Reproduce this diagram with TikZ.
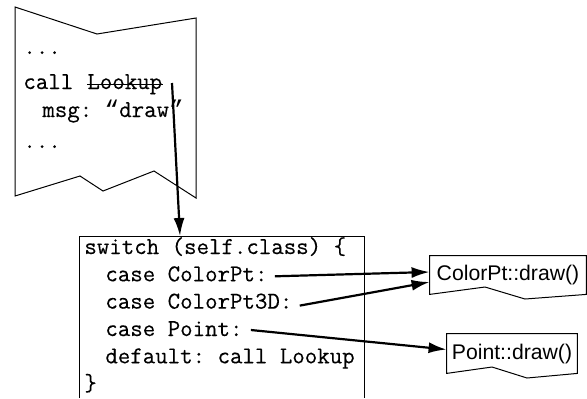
\documentclass[tikz,border=0pt]{standalone}
\usepackage{fontspec}
\setmainfont{Liberation Sans}
\newfontfamily\codefont[FakeBold=0.3]{Latin Modern Mono}
\newfontfamily\quotefont{Liberation Mono}
\newfontfamily\labelfont{Liberation Sans}
\usetikzlibrary{arrows.meta,calc}

\begin{document}
\begin{tikzpicture}[x=0.5pt,y=-0.5pt,
  outline/.style={draw=black,line width=0.5pt,line join=miter},
  code/.style={font=\codefont\fontsize{12.1}{14}\selectfont\frenchspacing,anchor=base west,inner sep=0pt},
  method/.style={font=\labelfont\fontsize{10.6}{12}\selectfont,rectangle,inner sep=0pt},
  link/.style={line width=1.1pt,-{Latex[length=9pt,width=5.5pt]}}]
\useasboundingbox (0,0) rectangle (587,398);

% calling code fragment (torn-edged sheet)
\draw[outline] (15,196) -- (15,7) -- (97,34) -- (196,18) -- (196,198)
  -- (154,171) -- (103,191) -- (80,176) -- cycle;
\node[code] (dotsA) at (23,54) {...};
\node[code] (call) at (23,89) {call};
\node[code] (lookup) at (87,89) {Lookup};
\draw[line width=0.5pt] ($(lookup.base west)+(0,-5)$) -- ($(lookup.base east)+(0,-5)$);
\node[code] (msg) at (42,117) {msg: {\quotefont“}draw{\quotefont”}};
\node[code] (dotsB) at (23,148) {...};
\coordinate (callout) at (172,83);

% dispatch code (open-bottomed box)
\coordinate (swnw) at (79,236);
\coordinate (swne) at (364,236);
\coordinate (swin) at (180,236);
\draw[outline] (79,398) -- (swnw) -- (swne) -- (364,398);
\node[code] (sw) at (84,254) {switch (self.class) \{};
\node[code] (c1) at (105,281.3) {case ColorPt:};
\node[code] (c2) at (105,308.6) {case ColorPt3D:};
\node[code] (c3) at (105,336) {case Point:};
\node[code] (c4) at (105,363.3) {default: call Lookup};
\node[code] (close) at (84,390.6) {\}};

% method bodies
\node[method,minimum width=78pt,minimum height=19pt] (cpm) at (508,275) {ColorPt::draw()};
\draw[outline] (cpm.south west) -- (cpm.north west) -- (cpm.north east) -- (cpm.south east)
  -- (525,299) -- (485,287) -- cycle;
\node[method,minimum width=65pt,minimum height=19.5pt] (ptm) at (512,353.5) {Point::draw()};
\draw[outline] (ptm.south west) -- (ptm.north west) -- (ptm.north east) -- (ptm.south east)
  -- (527,378) -- (492,367) -- cycle;

% connectors
\draw[link] (callout) -- (swin);
\draw[link] ($(c1.base east)+(7,-5)$) -- ($(cpm.west)+(0,-3)$);
\draw[link] ($(c2.base east)+(7,-3)$) -- ($(cpm.west)+(0,7)$);
\draw[link] ($(c3.base east)+(8,-6)$) -- ($(ptm.west)+(0,-4)$);
\end{tikzpicture}
\end{document}
